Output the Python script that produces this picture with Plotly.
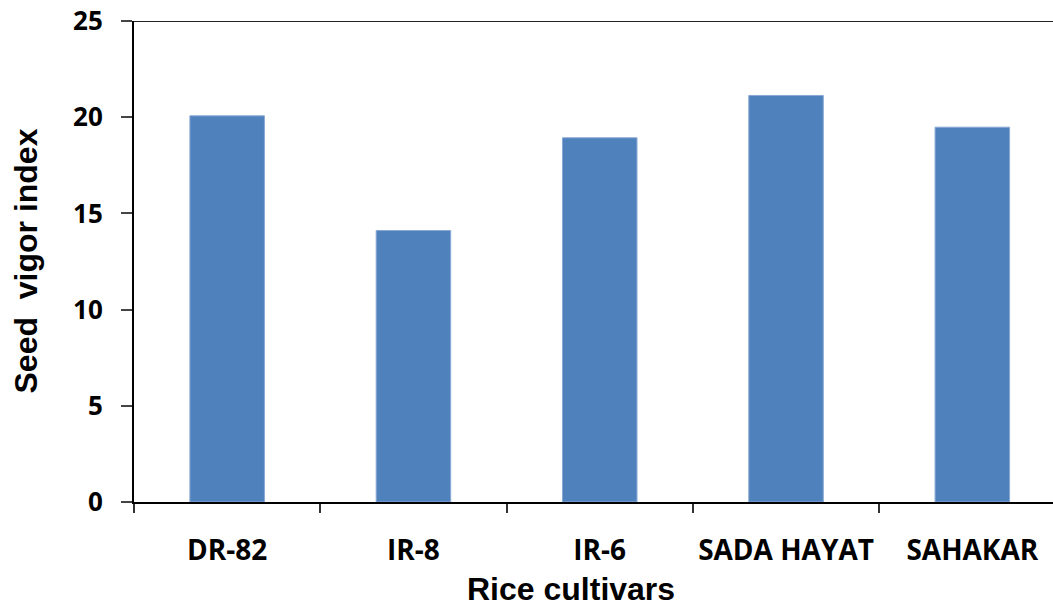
import plotly.graph_objects as go

# Seed vigor index by rice cultivar
cultivars = ["DR-82", "IR-8", "IR-6", "SADA HAYAT", "SAHAKAR"]
vigor_index = [20.07, 14.11, 18.93, 21.13, 19.48]
y_ticks = [0, 5, 10, 15, 20, 25]

BAR_BLUE = "#4F81BD"

fig = go.Figure(
    go.Bar(
        x=cultivars,
        y=vigor_index,
        width=0.4,
        marker=dict(color=BAR_BLUE, line=dict(color="#8AA8D4", width=1)),
        showlegend=False,
    )
)

fig.update_layout(
    width=1053,
    height=609,
    margin=dict(l=134, r=0, t=21, b=107),
    paper_bgcolor="white",
    plot_bgcolor="white",
    bargap=0.6,
    xaxis=dict(
        range=[-0.5, 4.433],
        showline=True,
        linecolor="black",
        linewidth=2,
        ticks="outside",
        tickson="boundaries",
        ticklen=9,
        tickcolor="#333",
        tickwidth=1.5,
        ticklabelstandoff=22,
        tickfont=dict(family="Open Sans", size=28, color="black", weight="bold"),
        showgrid=False,
        zeroline=False,
    ),
    yaxis=dict(
        range=[0, 25],
        tickvals=y_ticks,
        showline=True,
        linecolor="black",
        linewidth=2,
        ticks="outside",
        ticklen=11,
        tickcolor="#444",
        tickwidth=1.5,
        ticklabelstandoff=13,
        tickfont=dict(family="Open Sans", size=26, color="black", weight="bold"),
        showgrid=False,
        zeroline=False,
    ),
    shapes=[
        dict(
            type="line", xref="paper", yref="y",
            x0=0, x1=1, y0=25, y1=25,
            line=dict(color="#222", width=2),
        )
    ],
    annotations=[
        dict(
            text="<b>Rice cultivars</b>",
            xref="paper", yref="paper",
            x=(571 - 134) / 919, y=(502 - 609) / 481,
            xanchor="center", yanchor="bottom",
            showarrow=False,
            font=dict(family="Liberation Sans", size=32, color="black"),
        ),
        dict(
            text="<b>Seed\u00a0\u00a0vigor index</b>",
            xref="paper", yref="paper",
            x=(25 - 134) / 919, y=0.5,
            xanchor="center", yanchor="middle",
            textangle=-90,
            showarrow=False,
            font=dict(family="Liberation Sans", size=32, color="black"),
        ),
    ],
)

fig.write_html("out.html")
